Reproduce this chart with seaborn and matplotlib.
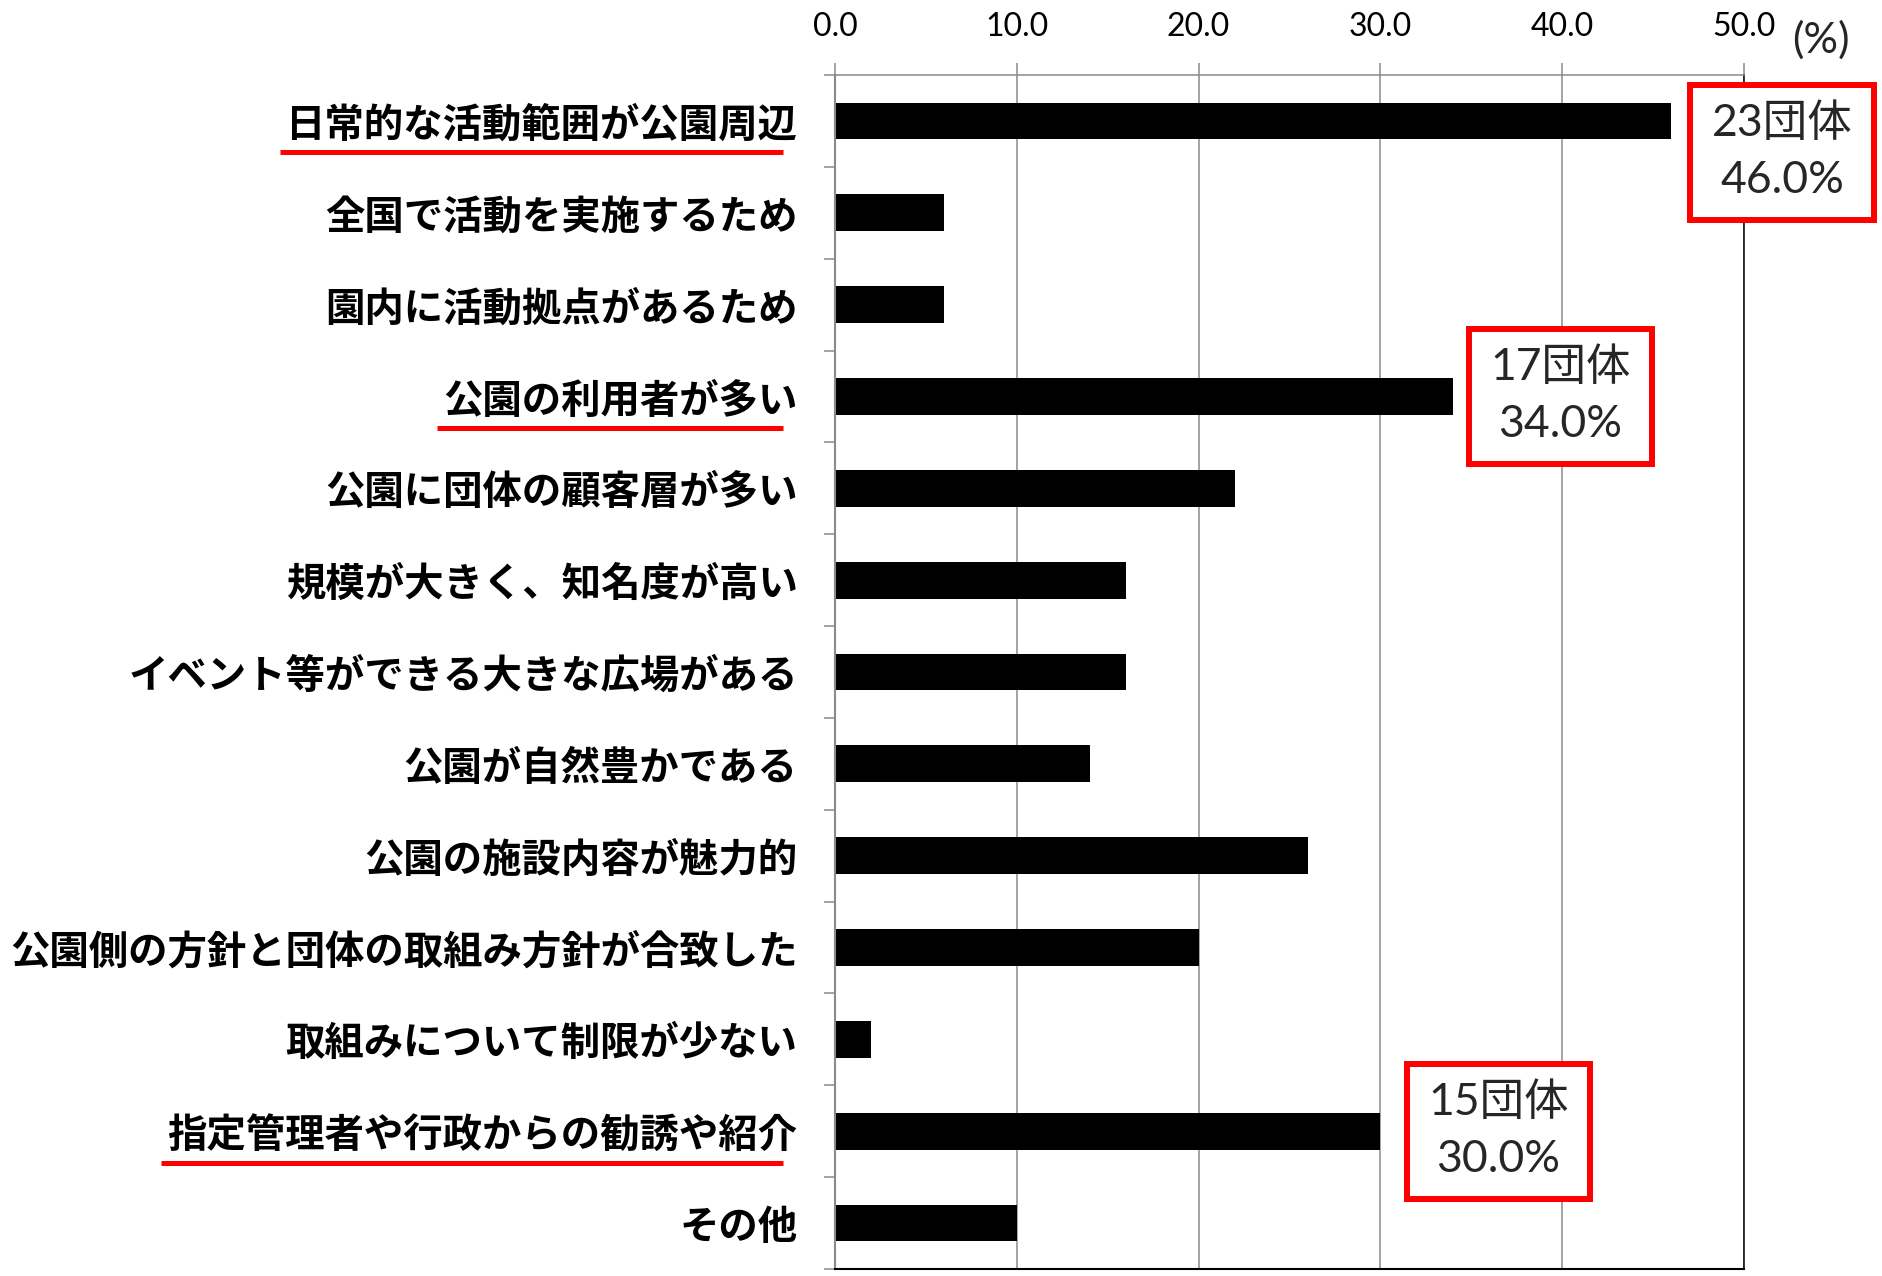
import numpy as np
import pandas as pd
import matplotlib
matplotlib.use("Agg")
import matplotlib.pyplot as plt
from matplotlib.patches import Rectangle
from matplotlib.lines import Line2D
import seaborn as sns

# Reasons for choosing the park as the activity venue (share of 50 groups, %)
categories = [
    "日常的な活動範囲が公園周辺",
    "全国で活動を実施するため",
    "園内に活動拠点があるため",
    "公園の利用者が多い",
    "公園に団体の顧客層が多い",
    "規模が大きく、知名度が高い",
    "イベント等ができる大きな広場がある",
    "公園が自然豊かである",
    "公園の施設内容が魅力的",
    "公園側の方針と団体の取組み方針が合致した",
    "取組みについて制限が少ない",
    "指定管理者や行政からの勧誘や紹介",
    "その他",
]
percent = [46.0, 6.0, 6.0, 34.0, 22.0, 16.0, 16.0, 14.0, 26.0, 20.0, 2.0, 30.0, 10.0]
x_ticks = [0, 10, 20, 30, 40, 50]

# Highlighted answers: category index, group count, box centre offset (x, y)
callout_idx = [0, 3, 11]
callout_groups = [23, 17, 15]
callout_dx = [6.1, 5.9, 6.5]
callout_dy = [0.34, 0.0, 0.0]

df = pd.DataFrame({"reason": categories, "percent": percent})

sns.set_theme(style="white")
plt.rcParams["font.family"] = ["Noto Sans CJK JP", "DejaVu Sans"]

W, H = 1883, 1276
fig = plt.figure(figsize=(W / 100, H / 100), dpi=100)
ax = fig.add_axes([835 / W, 7 / H, 909 / W, 1194 / H])

sns.barplot(data=df, x="percent", y="reason", orient="h", color="black",
            saturation=1, width=0.4, linewidth=0, ax=ax)

grey = "#8a8a8a"
ax.set_xlim(0, 50)
ax.set_xticks(x_ticks)
ax.set_xticklabels([f"{v:.1f}" for v in x_ticks], family=["Lato", "DejaVu Sans"],
                   fontsize=23)
ax.xaxis.tick_top()
ax.tick_params(axis="x", which="major", direction="out", length=8.6, width=1.1,
               color=grey, pad=15, labelcolor="black")
ax.grid(axis="x", color=grey, linewidth=1.1)
ax.grid(axis="y", visible=False)
ax.set_axisbelow(True)

ax.set_xlabel("")
ax.set_ylabel("")
ax.set_yticks(np.arange(-0.5, len(categories), 1), minor=True)
ax.tick_params(axis="y", which="major", length=0, pad=27, labelsize=28.4,
               labelcolor="black")
ax.tick_params(axis="y", which="minor", direction="out", length=8, width=1.1,
               color=grey, left=True)
for lab in ax.get_yticklabels():
    lab.set_fontweight("bold")
    lab.set_family(["Noto Sans CJK JP", "DejaVu Sans"])

ax.spines["top"].set_color(grey)
ax.spines["top"].set_linewidth(1.1)
ax.spines["left"].set_color(grey)
ax.spines["left"].set_linewidth(1.5)
ax.spines["right"].set_color("black")
ax.spines["right"].set_linewidth(1.1)
ax.spines["bottom"].set_color("black")
ax.spines["bottom"].set_linewidth(1.5)
for s in ax.spines.values():
    s.set_visible(True)

# unit label next to the last tick
fig.text(1821 / W, 1 - 40 / H, "(%)", family=["Lato", "DejaVu Sans"], fontsize=31,
         ha="center", va="center")

# red callout boxes with group count and share
box_w, box_h = 10.1, 1.47
for i, n, dx, dy in zip(callout_idx, callout_groups, callout_dx, callout_dy):
    cx = percent[i] + dx
    cy = i + dy
    ax.add_patch(Rectangle((cx - box_w / 2, cy - box_h / 2), box_w, box_h,
                           facecolor="white", edgecolor="#ff0000", linewidth=4.3,
                           clip_on=False, zorder=5))
    ax.text(cx, cy - 0.31, f"{n}団体", ha="center", va="center", fontsize=32,
            family=["Lato", "Noto Sans CJK JP"], zorder=6, clip_on=False)
    ax.text(cx, cy + 0.31, f"{percent[i]:.1f}%", ha="center", va="center",
            fontsize=32, family=["Lato", "Noto Sans CJK JP"], zorder=6,
            clip_on=False)

# red underline beneath the highlighted answers
fig.canvas.draw()
renderer = fig.canvas.get_renderer()
labels = ax.get_yticklabels()
for i in callout_idx:
    bb = labels[i].get_window_extent(renderer)
    yc = (bb.y0 + bb.y1) / 2 - 27
    x0, x1 = bb.x0 - 6, bb.x1 - 14
    fig.add_artist(Line2D([x0 / W, x1 / W], [yc / H, yc / H],
                          transform=fig.transFigure, color="#ff0000",
                          linewidth=3.6, solid_capstyle="butt"))

fig.savefig("out.png", dpi=100, facecolor="white")
